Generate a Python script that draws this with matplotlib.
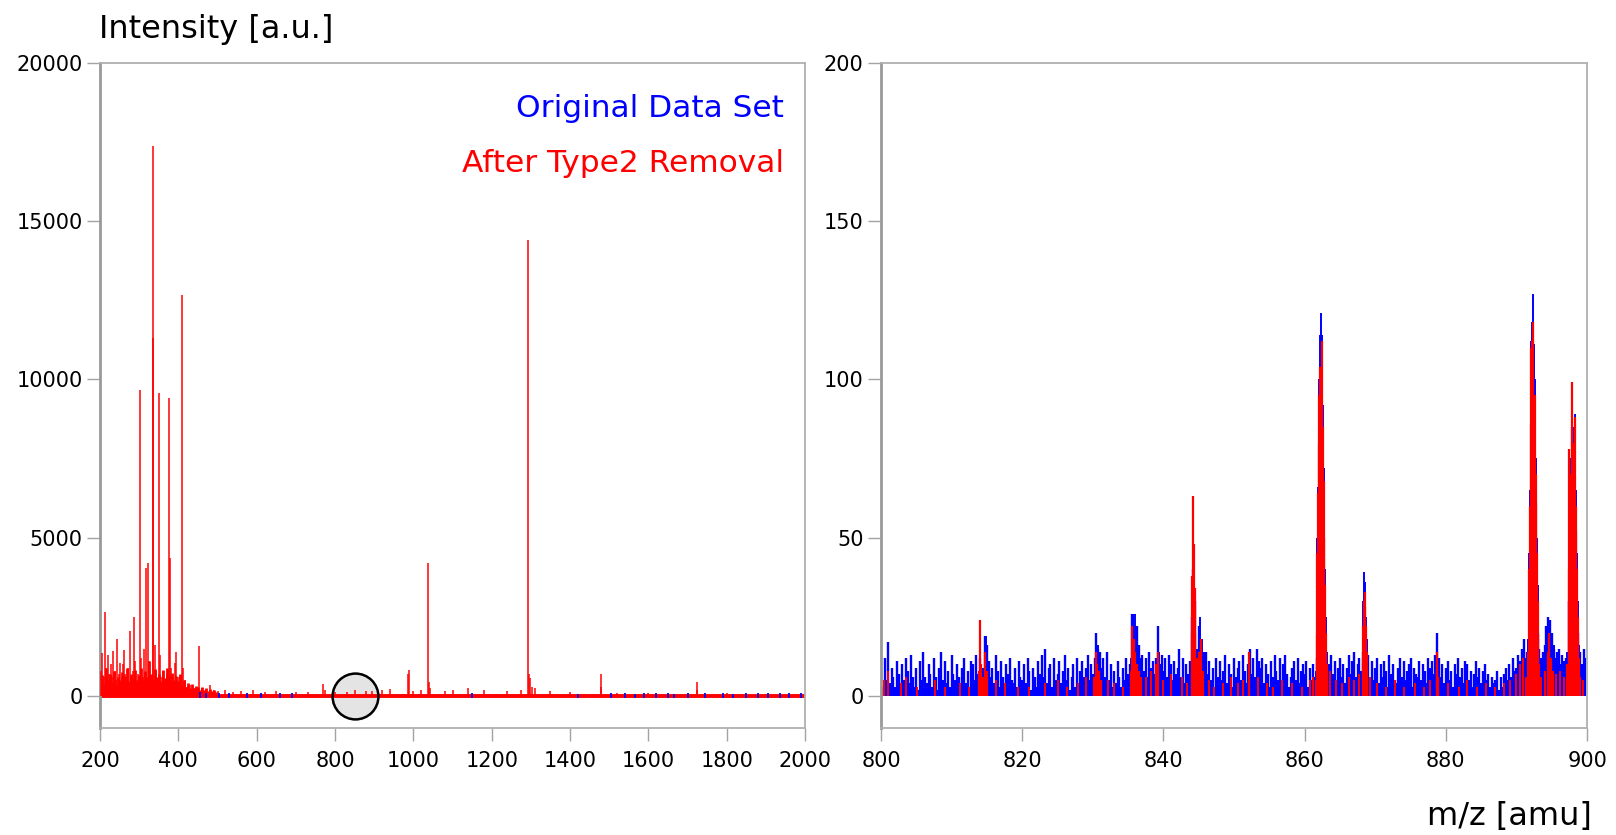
import numpy as np
import matplotlib
matplotlib.use("Agg")
import matplotlib.pyplot as plt

plt.rcParams['font.family'] = ['DejaVu Sans']

BLUE = '#0000ff'
RED = '#ff0000'
GRID = '#a3a3a3'

# ---- left panel: full spectrum 200-2000 amu ----
left_peak_mz = [203, 206, 209, 213, 216, 219.6, 223, 227, 231, 234, 238, 241, 244, 248,
                251, 255, 258, 260, 264, 268, 272, 276.6, 280, 283, 286, 290, 294, 298,
                302, 305, 309, 313, 316.7, 321.6, 325, 330, 334.6, 336, 340, 344, 350.7,
                353, 357, 362, 366, 371, 375.4, 378, 382, 386, 391, 393.5, 397, 401, 405,
                410, 413, 417, 422, 430, 440, 452.7, 460, 470, 482, 490, 500, 520, 540,
                560, 590, 620, 650, 700, 730, 770, 775, 800, 830, 850, 880, 895, 920, 940,
                985, 987.6, 1000, 1020, 1037, 1039, 1042, 1080, 1100, 1140, 1180, 1240,
                1275, 1292, 1295, 1298, 1302, 1310, 1350, 1400, 1478, 1480, 1520, 1600,
                1723, 1725, 1800, 1900]
left_peak_int = [800, 1360, 600, 2650, 900, 1300, 700, 1000, 600, 1430, 800, 500, 1810, 700,
                 1050, 600, 1000, 1460, 700, 500, 900, 2040, 600, 800, 2510, 1100, 500, 700,
                 9650, 1200, 600, 1500, 4050, 4210, 1100, 600, 17350, 11300, 1600, 800, 9580,
                 1300, 600, 800, 500, 700, 9420, 4350, 900, 600, 1050, 1400, 500, 600, 400,
                 12650, 900, 500, 300, 350, 250, 1590, 250, 200, 350, 200, 150, 200, 120,
                 150, 180, 120, 150, 130, 140, 370, 200, 130, 120, 180, 170, 150, 200, 220,
                 700, 810, 160, 180, 4190, 430, 250, 150, 180, 250, 180, 150,
                 200, 14400, 700, 560, 300, 250, 150, 130, 700, 300, 100, 80,
                 430, 200, 80, 60]

# dense low-level signal 200-500 amu, one value per 5 amu
left_floor_start, left_floor_step = 200, 5
left_floor_int = [420, 650, 380, 900, 520, 700, 450, 800, 380, 600,
                  500, 750, 420, 620, 880, 460, 700, 540, 820, 480,
                  650, 900, 520, 780, 600, 1100, 700, 520, 850, 600,
                  700, 480, 820, 560, 900, 620, 450, 720, 520, 640,
                  480, 700, 360, 520, 300, 420, 260, 380, 240, 320,
                  280, 200, 300, 180, 240, 160, 220, 150, 190, 140]

# spots where the original (blue) baseline shows above the filtered one
left_blue_mz = [455, 470, 505, 530, 575, 610, 660, 690, 1150, 1420, 1505, 1540, 1565, 1590,
                1620, 1650, 1665, 1700, 1745, 1790, 1815, 1850, 1880, 1905, 1935, 1960, 1990]
left_blue_int = [120, 110, 100, 90, 100, 80, 90, 80, 90, 70, 80, 90, 70, 100,
                 80, 90, 70, 100, 80, 90, 70, 100, 80, 90, 100, 80, 90]

# ---- right panel: zoom 800-900 amu ----
noise_start, noise_step = 800.0, 0.25
blue_noise = [8, 3, 12, 5,  17, 4, 9, 6,  3, 11, 7, 2,  10, 5, 12, 8,  4, 13, 6, 3,
              9, 2, 11, 5,  14, 6, 4, 10,  7, 3, 12, 6,  2, 9, 14, 5,  11, 4, 8, 3,
              13, 7, 5, 10,  6, 2, 9, 12,  4, 8, 3, 11,  10, 5, 13, 7,  12, 6, 9, 19,
              16, 11, 6, 9,  4, 13, 8, 3,  11, 6, 2, 10,  7, 12, 5, 4,  9, 3, 11, 6,
              5, 10, 4, 12,  8, 2, 9, 6,  3, 11, 7, 13,  6, 15, 4, 9,  10, 3, 12, 5,
              7, 11, 4, 8,  13, 5, 9, 2,  6, 10, 3, 12,  4, 8, 11, 6,  9, 13, 5, 10,
              7, 12, 20, 15,  14, 9, 12, 6,  14, 5, 10, 3,  8, 4, 11, 6,  3, 9, 5, 12,
              7, 10, 26, 26,  18, 22, 16, 11,  13, 8, 12, 6,  14, 9, 11, 7,  12, 22, 10, 13,
              8, 12, 6, 13,  10, 5, 11, 7,  9, 15, 6, 12,  4, 10, 7, 11,  25, 40, 30, 15,
              22, 18, 12, 14,  14, 7, 11, 5,  9, 3, 12, 6,  11, 5, 8, 13,  4, 10, 7, 3,
              12, 6, 9, 11,  5, 13, 8, 4,  10, 15, 7, 12,  6, 15, 11, 9,  12, 4, 10, 7,
              3, 11, 6, 13,  8, 5, 12, 4,  10, 13, 7, 3,  6, 9, 11, 5,  12, 4, 8, 10,
              7, 11, 3, 9,  5, 10, 6, 12,  20, 40, 60, 30,  12, 8, 10, 13,  7, 11, 5, 9,
              12, 6, 10, 4,  9, 13, 7, 11,  14, 6, 10, 12,  8, 14, 12, 10,  13, 6, 11, 5,
              9, 12, 4, 10,  6, 11, 8, 3,  13, 7, 10, 5,  4, 9, 12, 6,  11, 5, 8, 10,
              12, 3, 9, 7,  6, 11, 5, 10,  8, 4, 12, 9,  11, 7, 13, 20,  12, 6, 10, 4,
              9, 11, 5, 8,  3, 10, 7, 12,  6, 9, 4, 11,  10, 5, 8, 3,  7, 11, 6, 9,
              4, 8, 10, 5,  7, 3, 6, 4,  5, 8, 2, 6,  3, 7, 9, 5,  10, 6, 12, 8,
              9, 13, 11, 15,  18, 12, 14, 16,  30, 50, 40, 35,  20, 15, 12, 14,  16, 22, 25, 24,
              20, 15, 12, 14,  15, 10, 13, 11,  12, 14, 30, 40,  40, 35, 30, 20,  14, 10, 15, 12]

blue_peak_mz = [814.0, 814.8, 815.0,
                830.3, 830.5, 830.7, 831.0,
                835.4, 835.6, 835.8, 835.9, 836.1, 836.3, 836.6, 836.8,
                839.2, 839.4,
                844.0, 844.1, 844.2, 844.3, 844.4, 844.5, 844.7, 845.0, 845.2, 845.4, 845.6,
                861.6, 861.7, 861.8, 861.9, 862.0, 862.1, 862.2, 862.3, 862.4, 862.5, 862.6,
                862.7, 862.8, 862.9, 863.0, 863.1, 863.2,
                868.2, 868.3, 868.4, 868.5, 868.6, 868.7, 868.8, 868.9,
                878.8,
                891.4, 891.6, 891.8, 891.9, 892.0, 892.1, 892.2, 892.3, 892.4, 892.5, 892.6,
                892.7, 892.8, 892.9, 893.0, 893.1, 893.2,
                894.2, 894.5, 894.7, 895.0, 895.3,
                897.2, 897.4, 897.5, 897.6, 897.7, 897.8, 897.9, 898.0, 898.1, 898.2, 898.3,
                898.4, 898.5, 898.6, 898.7, 898.8, 899.0]
blue_peak_int = [12, 19, 16,
                 12, 20, 16, 14,
                 12, 26, 20, 26, 18, 22, 16, 12,
                 22, 14,
                 25, 38, 40, 37, 30, 24, 15, 22, 25, 18, 12,
                 8, 25, 50, 66, 85, 100, 114, 121, 108, 114, 92,
                 72, 55, 40, 25, 14, 8,
                 14, 30, 39, 36, 30, 25, 18, 12,
                 20,
                 12, 18, 45, 65, 112, 112, 118, 127, 110, 111, 100,
                 75, 65, 50, 35, 22, 14,
                 22, 25, 24, 20, 16,
                 14, 45, 78, 65, 75, 90, 99, 85, 70, 75, 89,
                 65, 55, 45, 30, 16, 10]

red_peak_mz = [813.9, 814.0, 814.1, 814.4, 814.7, 815.0,
               830.2, 830.4, 830.6, 830.9, 831.2,
               835.4, 835.6, 835.8, 836.0, 836.2, 836.5, 836.8,
               839.0, 839.2,
               844.0, 844.1, 844.2, 844.3, 844.4, 844.5, 844.7, 845.0, 845.3, 845.6,
               852.1,
               861.6, 861.7, 861.8, 861.9, 862.0, 862.1, 862.2, 862.3, 862.4, 862.5, 862.6,
               862.7, 862.8, 862.9, 863.0, 863.1, 863.2,
               868.2, 868.3, 868.4, 868.5, 868.6, 868.7, 868.8, 868.9,
               878.7, 878.8, 878.9,
               891.4, 891.6, 891.8, 891.9, 892.0, 892.1, 892.2, 892.3, 892.4, 892.5, 892.6,
               892.7, 892.8, 892.9, 893.0, 893.1, 893.2,
               894.1, 894.4, 894.6, 894.9, 895.2,
               897.2, 897.4, 897.5, 897.6, 897.7, 897.8, 897.9, 898.0, 898.1, 898.2, 898.3,
               898.4, 898.5, 898.6, 898.7, 898.8, 899.0]
red_peak_int = [8, 24, 10, 6, 14, 8,
                6, 14, 10, 8, 5,
                8, 22, 18, 14, 10, 8, 6,
                10, 14,
                20, 38, 63, 48, 34, 20, 12, 14, 18, 8,
                14,
                5, 20, 45, 64, 80, 95, 104, 98, 92, 112, 85,
                68, 50, 35, 20, 10, 4,
                10, 22, 30, 33, 28, 22, 14, 8,
                8, 14, 6,
                6, 14, 40, 60, 86, 110, 112, 118, 98, 82, 95,
                70, 61, 45, 30, 18, 10,
                8, 14, 20, 12, 8,
                10, 40, 78, 60, 70, 85, 99, 80, 65, 70, 88,
                60, 52, 40, 25, 12, 6]

# low red residue in the baseline
red_noise_mz = [800.4, 801.0, 802.8, 803.5, 805.1, 807.7, 809.0, 811.2, 812.4, 816.3, 817.6,
                819.4, 821.0, 823.2, 825.0, 826.4, 827.9, 829.1, 832.1, 833.0, 834.2, 837.5,
                838.3, 840.0, 841.1, 842.6, 843.3, 846.5, 847.2, 848.4, 849.6, 850.5, 851.3,
                853.4, 854.6, 855.5, 856.8, 858.2, 859.6, 860.7, 861.2, 863.6, 864.5, 865.3,
                866.3, 867.0, 867.7, 869.3, 870.2, 871.5, 872.8, 874.0, 875.6, 876.9, 877.8,
                880.3, 881.8, 883.0, 884.4, 885.7, 887.0, 888.2, 889.1, 889.9, 890.5, 890.9,
                893.5, 895.6, 896.2, 896.8, 899.4]
red_noise_int = [5, 8, 4, 6, 3, 5, 3, 4, 3, 5, 4,
                 3, 3, 4, 5, 3, 4, 6, 5, 4, 3, 6,
                 8, 5, 7, 6, 4, 5, 3, 4, 6, 4, 5,
                 6, 4, 3, 5, 4, 3, 5, 6, 8, 5, 4,
                 6, 5, 7, 6, 4, 3, 5, 3, 4, 3, 5,
                 4, 3, 5, 3, 4, 3, 4, 5, 7, 10, 12,
                 6, 7, 8, 6, 5]

fig = plt.figure(figsize=(16.16, 8.35), dpi=100)
axL = fig.add_axes([0.0619, 0.1285, 0.4363, 0.7966])
axR = fig.add_axes([0.5452, 0.1285, 0.4369, 0.7966])


def style(ax):
    for side in ['top', 'right', 'bottom']:
        ax.spines[side].set_color('#b0b0b0')
        ax.spines[side].set_linewidth(1.3)
    ax.spines['left'].set_color('#999999')
    ax.spines['left'].set_linewidth(2.0)
    ax.tick_params(axis='both', direction='out', length=9.5, width=1.0, color=GRID,
                   labelsize=15, labelcolor='black')
    ax.tick_params(axis='x', pad=7)
    ax.tick_params(axis='y', pad=3)


# left
floor_mz = left_floor_start + left_floor_step * np.arange(len(left_floor_int))
axL.axhline(0, color=RED, lw=2.8, zorder=2)
axL.vlines(floor_mz, 0, left_floor_int, color=RED, lw=2.0, zorder=2)
axL.vlines(left_peak_mz, 0, left_peak_int, color=RED, lw=1.1, zorder=3)
axL.vlines(left_blue_mz, -50, left_blue_int, color=BLUE, lw=1.3, zorder=3)
# highlighted region that is shown on the right
axL.plot([850], [0], 'o', ms=33, mfc='#e4e4e4', mec='none', zorder=1)
axL.plot([850], [0], 'o', ms=33, mfc='none', mec='black', mew=1.8, zorder=5)
axL.set_xlim(200, 2000)
axL.set_ylim(-1000, 20000)
axL.set_xticks(np.arange(200, 2001, 200))
axL.set_yticks(np.arange(0, 20001, 5000))
style(axL)
axL.text(0.970, 0.9176, 'Original Data Set', color=BLUE, fontsize=22.5,
         ha='right', va='baseline', transform=axL.transAxes)
axL.text(0.970, 0.8358, 'After Type2 Removal', color=RED, fontsize=22.5,
         ha='right', va='baseline', transform=axL.transAxes)

# right
noise_mz = noise_start + noise_step * np.arange(len(blue_noise))
axR.vlines(noise_mz, 0, blue_noise, color=BLUE, lw=1.7, zorder=2)
axR.vlines(blue_peak_mz, 0, blue_peak_int, color=BLUE, lw=1.4, zorder=2)
axR.vlines(red_noise_mz, 0, red_noise_int, color=RED, lw=1.4, zorder=3)
axR.vlines(red_peak_mz, 0, red_peak_int, color=RED, lw=1.6, zorder=3)
axR.set_xlim(800, 900)
axR.set_ylim(-10, 200)
axR.set_xticks(np.arange(800, 901, 20))
axR.set_yticks(np.arange(0, 201, 50))
style(axR)

fig.text(0.061, 0.9549, 'Intensity [a.u.]', fontsize=23, ha='left', va='baseline')
fig.text(0.985, 0.012, 'm/z [amu]', fontsize=23, ha='right', va='baseline')

fig.savefig('out.png', dpi=100)
